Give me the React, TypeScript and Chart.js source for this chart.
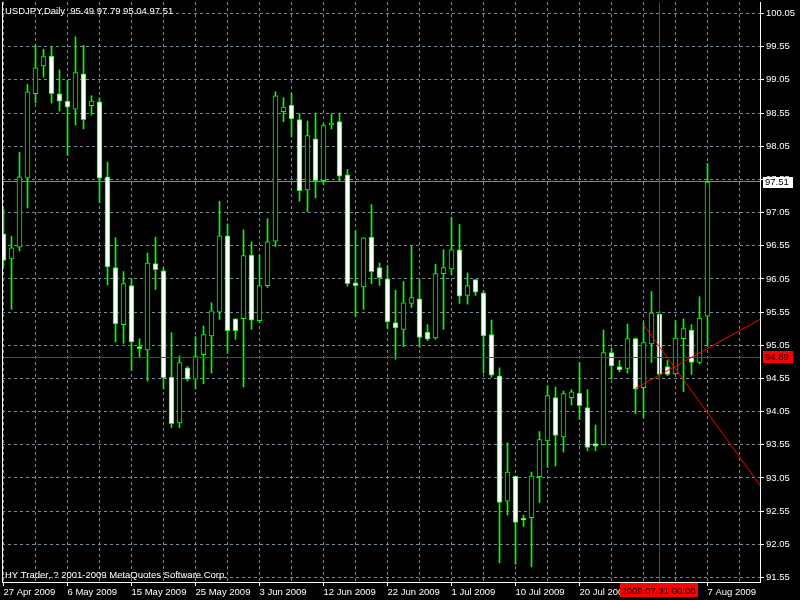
import React, { useEffect, useRef } from "react";
import { Chart, registerables } from "chart.js";

Chart.register(...registerables);

// ---------- data ----------
const SYMBOL = "USDJPY,Daily";
const COPYRIGHT = "HY Trader, ? 2001-2009 MetaQuotes Software Corp.";

const OPEN = [
  96.73, 96.35, 96.53, 97.57, 98.84, 99.26, 99.41, 98.84, 98.73, 98.61,
  99.14, 98.66, 98.72, 97.59, 96.22, 95.36, 95.95, 95.03, 94.98, 96.28,
  96.17, 94.57, 93.88, 94.71, 94.54, 94.91, 95.19, 95.55, 96.70, 95.45,
  95.45, 96.41, 95.42, 95.95, 96.62, 98.57, 98.67, 98.45, 97.39, 98.16,
  97.53, 98.37, 98.42, 97.62, 95.99, 95.93, 96.68, 96.22, 96.05, 95.39,
  95.29, 95.68, 95.75, 95.25, 95.16, 96.13, 96.20, 96.49, 95.80, 96.04,
  95.84, 95.21, 94.59, 92.70, 93.08, 92.44, 92.45, 93.07, 93.61, 94.26,
  93.67, 94.26, 94.33, 94.11, 93.57, 93.55, 94.94, 94.73, 94.70, 95.15,
  94.41, 95.07, 95.52, 94.73, 94.62, 95.15, 95.28, 94.79, 95.49,
];
const HIGH = [
  97.10, 96.69, 97.96, 98.98, 99.58, 99.51, 99.55, 99.20, 99.05, 99.70,
  99.57, 98.81, 98.78, 97.81, 96.67, 96.16, 96.05, 95.15, 96.44, 96.68,
  96.22, 95.24, 94.89, 94.73, 95.18, 95.34, 95.69, 97.22, 96.88, 95.45,
  96.79, 96.61, 96.41, 96.96, 98.87, 98.78, 98.85, 98.54, 98.43, 98.55,
  98.39, 98.54, 98.55, 97.70, 96.78, 96.67, 97.17, 96.29, 96.25, 95.88,
  96.01, 96.55, 96.04, 95.36, 96.27, 96.49, 96.98, 96.87, 96.14, 96.04,
  95.87, 95.43, 94.71, 93.58, 93.08, 92.49, 93.14, 93.75, 94.44, 94.42,
  94.36, 94.38, 94.79, 94.38, 93.85, 95.28, 95.01, 94.82, 95.37, 95.16,
  95.39, 95.86, 95.56, 94.82, 95.42, 95.45, 95.36, 95.78, 97.79,
];
const LOW = [
  96.24, 95.59, 96.47, 97.12, 98.70, 99.09, 98.70, 98.58, 97.91, 98.37,
  98.31, 98.52, 97.20, 95.96, 95.10, 95.08, 94.67, 94.87, 94.51, 95.89,
  94.39, 93.81, 93.81, 94.51, 94.39, 94.47, 94.63, 95.44, 94.93, 95.14,
  94.42, 95.29, 95.39, 95.92, 96.54, 98.42, 98.19, 97.22, 97.06, 97.27,
  97.47, 98.31, 97.53, 95.94, 95.48, 95.59, 95.98, 95.95, 95.30, 94.84,
  95.03, 95.62, 95.02, 95.12, 95.14, 95.29, 96.11, 95.68, 95.67, 95.80,
  94.63, 94.57, 91.77, 92.49, 91.75, 92.32, 91.71, 92.68, 93.21, 93.23,
  93.44, 94.15, 93.93, 93.46, 93.46, 93.55, 94.54, 94.65, 94.63, 94.02,
  93.96, 94.79, 94.58, 94.59, 94.61, 94.35, 94.61, 94.77, 95.04,
];
const CLOSE = [
  96.33, 96.52, 97.59, 98.87, 99.23, 99.40, 98.84, 98.73, 98.64, 99.16,
  98.45, 98.73, 97.57, 96.23, 95.37, 95.98, 95.10, 95.00, 96.29, 96.19,
  94.56, 93.87, 94.79, 94.54, 94.88, 95.21, 95.57, 96.70, 95.27, 95.27,
  96.40, 95.43, 95.95, 96.61, 98.81, 98.64, 98.46, 97.38, 98.21, 97.53,
  98.36, 98.40, 97.60, 95.98, 95.95, 96.67, 96.16, 96.07, 95.40, 95.31,
  95.69, 95.77, 95.17, 95.14, 96.13, 96.22, 96.49, 95.79, 95.95, 95.85,
  95.19, 94.60, 92.68, 93.14, 92.38, 92.42, 93.08, 93.63, 94.29, 93.69,
  94.32, 94.35, 94.14, 93.51, 93.53, 94.94, 94.74, 94.68, 95.15, 94.39,
  95.09, 95.54, 94.61, 94.61, 95.16, 95.30, 94.79, 95.46, 97.51,
];

// x axis: grid every 4 bars, date labels every 8 bars
const GRID_BARS = [0, 4, 8, 12, 16, 20, 24, 28, 32, 36, 40, 44, 48, 52, 56, 60, 64, 68, 72, 76, 80, 84, 88, 92];
const DATE_LABEL_BARS = [0, 8, 16, 24, 32, 40, 48, 56, 64, 72, 80, 88];
const DATE_LABELS = [
  "27 Apr 2009", "6 May 2009", "15 May 2009", "25 May 2009", "3 Jun 2009", "12 Jun 2009",
  "22 Jun 2009", "1 Jul 2009", "10 Jul 2009", "20 Jul 2009", "29 Jul 2009", "7 Aug 2009",
];
// y axis tick labels
const PRICE_TICKS = [
  91.55, 92.05, 92.55, 93.05, 93.55, 94.05, 94.55, 95.05, 95.55,
  96.05, 96.55, 97.05, 97.55, 98.05, 98.55, 99.05, 99.55, 100.05,
];

const BID = 97.51;
const CROSS_BAR = 82;
const CROSS_PRICE = 94.87;
const CROSS_PRICE_LABEL = "94.89";
const CROSS_DATE_LABEL = "2009.07.31 00:00";
const TREND_UP = [{ x: 79, y: 94.40 }, { x: 95, y: 95.47 }];
const TREND_DOWN = [{ x: 80, y: 95.36 }, { x: 95, y: 92.87 }];

// ---------- view settings ----------
const X_MIN = -0.1875;
const X_MAX = 94.5625;
const Y_MIN = 91.4822;
const Y_MAX = 100.2233;
const FONT_FAMILY = "'Liberation Sans', Arial, sans-serif";
const FONT_SIZE = 9.5;
const GRID_COLOR = "#778899";
const CANDLE_COLOR = "#00ff00";

const overlayPlugin = {
  id: "mt4Overlay",
  beforeDraw(chart: any) {
    const { ctx, width, height } = chart;
    ctx.save();
    ctx.fillStyle = "#000";
    ctx.fillRect(0, 0, width, height);
    ctx.restore();
  },
  beforeDatasetsDraw(chart: any) {
    const { ctx, chartArea: a, scales } = chart;
    const yb = Math.floor(scales.y.getPixelForValue(BID) - 0.5);
    ctx.save();
    ctx.fillStyle = GRID_COLOR;
    ctx.fillRect(a.left, yb, a.right - a.left, 1);
    ctx.restore();
  },
  afterDatasetsDraw(chart: any) {
    const { ctx, chartArea: a, scales } = chart;
    const x = Math.floor(scales.x.getPixelForValue(CROSS_BAR));
    const y = Math.floor(scales.y.getPixelForValue(CROSS_PRICE));
    ctx.save();
    ctx.fillStyle = "#ff0000";
    ctx.fillRect(x, a.top, 1, a.bottom - a.top);
    ctx.fillRect(a.left, y, a.right - a.left, 1);
    ctx.restore();
  },
  afterDraw(chart: any) {
    const { ctx, chartArea: a, scales } = chart;
    const font = `${FONT_SIZE}px ${FONT_FAMILY}`;
    ctx.save();
    // left frame line
    ctx.fillStyle = "#fff";
    ctx.fillRect(a.left, a.top, 1, a.bottom - a.top + 1);
    // texts
    ctx.font = font;
    ctx.textAlign = "left";
    ctx.textBaseline = "alphabetic";
    const n = OPEN.length - 1;
    const header = `${SYMBOL}  ${OPEN[n].toFixed(2)} ${HIGH[n].toFixed(2)} ${LOW[n].toFixed(2)} ${CLOSE[n].toFixed(2)}`;
    ctx.fillStyle = "#fff";
    ctx.fillText(header, 5, 14);
    ctx.fillText(COPYRIGHT, 5, 578);
    // bid price box
    const by = scales.y.getPixelForValue(BID);
    ctx.fillStyle = "#fff";
    ctx.fillRect(a.right + 3, Math.round(by) - 5, 30, 11);
    ctx.fillStyle = "#000";
    ctx.textBaseline = "middle";
    ctx.fillText(BID.toFixed(2), a.right + 5, by + 0.5);
    // crosshair price box
    const cy = scales.y.getPixelForValue(CROSS_PRICE);
    ctx.fillStyle = "#ff0000";
    ctx.fillRect(a.right + 3, Math.round(cy) - 6, 30, 12);
    ctx.fillStyle = "#000";
    ctx.fillText(CROSS_PRICE_LABEL, a.right + 5, cy + 0.5);
    // crosshair date box
    const cx = scales.x.getPixelForValue(CROSS_BAR);
    ctx.fillStyle = "#ff0000";
    ctx.fillRect(Math.round(cx) - 40, a.bottom + 1, 78, 14);
    ctx.fillStyle = "#000";
    ctx.textAlign = "center";
    ctx.textBaseline = "alphabetic";
    ctx.fillText(CROSS_DATE_LABEL, cx - 1, a.bottom + 12);
    ctx.restore();
  },
};

export default function App() {
  const ref = useRef<HTMLCanvasElement>(null);

  useEffect(() => {
    const canvas = ref.current;
    if (!canvas) return;
    const idx = OPEN.map((_, i) => i);
    const bodies = idx.map((i) => ({ x: i, y: [OPEN[i], CLOSE[i]] }));
    const wicks = idx.map((i) => ({ x: i, y: [LOW[i], HIGH[i]] }));

    const chart = new Chart(canvas, {
      type: "bar",
      data: {
        datasets: [
          {
            type: "line",
            data: TREND_UP,
            borderColor: "#ff0000",
            borderWidth: 1,
            pointRadius: 0,
            order: 0,
          } as any,
          {
            type: "line",
            data: TREND_DOWN,
            borderColor: "#ff0000",
            borderWidth: 1,
            pointRadius: 0,
            order: 0,
          } as any,
          {
            type: "bar",
            data: bodies as any,
            backgroundColor: (c: any) => (CLOSE[c.dataIndex] > OPEN[c.dataIndex] ? "#000000" : "#ffffff"),
            borderColor: CANDLE_COLOR,
            borderWidth: 1,
            borderSkipped: false,
            barThickness: 5,
            grouped: false,
            order: 1,
          } as any,
          {
            type: "bar",
            data: wicks as any,
            backgroundColor: CANDLE_COLOR,
            borderWidth: 0,
            barThickness: 1,
            grouped: false,
            order: 2,
          } as any,
        ],
      },
      options: {
        animation: false,
        responsive: false,
        maintainAspectRatio: false,
        devicePixelRatio: 1,
        events: [],
        layout: { padding: { left: 2, top: 2, right: 0, bottom: 0 } },
        plugins: { legend: { display: false }, tooltip: { enabled: false } },
        font: { family: FONT_FAMILY, size: FONT_SIZE },
        scales: {
          x: {
            type: "linear",
            position: "bottom",
            min: X_MIN,
            max: X_MAX,
            bounds: "data",
            offset: false,
            afterBuildTicks: (s: any) => {
              s.ticks = GRID_BARS.map((v) => ({ value: v }));
            },
            afterFit: (s: any) => {
              s.height = 18;
              s.paddingLeft = 0;
              s.paddingRight = 0;
            },
            ticks: {
              autoSkip: false,
              maxRotation: 0,
              minRotation: 0,
              align: "start",
              padding: 1,
              color: "#ffffff",
              font: { family: FONT_FAMILY, size: FONT_SIZE },
              callback: (v: any) => {
                const k = DATE_LABEL_BARS.indexOf(Number(v));
                return k >= 0 ? DATE_LABELS[k] : "";
              },
            },
            grid: {
              color: GRID_COLOR,
              lineWidth: 1,
              offset: false,
              drawTicks: true,
              tickLength: 4,
              tickWidth: 1,
              tickBorderDash: [],
              tickColor: (c: any) =>
                c.tick && DATE_LABEL_BARS.indexOf(c.tick.value) >= 0 ? "#ffffff" : "rgba(0,0,0,0)",
            },
            border: { display: true, color: "#ffffff", width: 1, dash: [3, 3] },
          } as any,
          y: {
            type: "linear",
            position: "right",
            min: Y_MIN,
            max: Y_MAX,
            bounds: "data",
            afterBuildTicks: (s: any) => {
              s.ticks = PRICE_TICKS.map((v) => ({ value: v }));
            },
            afterFit: (s: any) => {
              s.width = 40;
              s.paddingTop = 0;
              s.paddingBottom = 0;
            },
            ticks: {
              autoSkip: false,
              padding: 2,
              crossAlign: "near",
              color: "#ffffff",
              font: { family: FONT_FAMILY, size: FONT_SIZE },
              callback: (v: any) => Number(v).toFixed(2),
            },
            grid: {
              color: GRID_COLOR,
              lineWidth: 1,
              drawTicks: true,
              tickLength: 4,
              tickWidth: 1,
              tickBorderDash: [],
              tickColor: "#ffffff",
            },
            border: { display: true, color: "#ffffff", width: 1, dash: [3, 3] },
          } as any,
        },
      } as any,
      plugins: [overlayPlugin as any],
    });

    return () => chart.destroy();
  }, []);

  return (
    <div style={{ position: "fixed", left: 0, top: 0, width: 800, height: 600, background: "#000" }}>
      <canvas ref={ref} width={800} height={600} style={{ display: "block", width: 800, height: 600 }} />
    </div>
  );
}
